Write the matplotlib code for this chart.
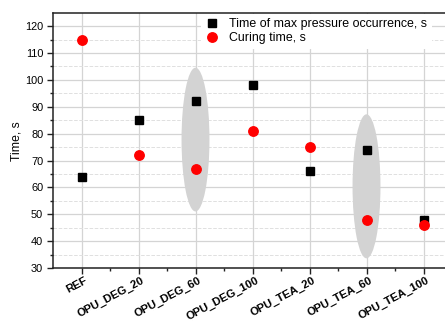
import matplotlib
matplotlib.use("Agg")
import matplotlib.pyplot as plt
from matplotlib.patches import Ellipse
from matplotlib.transforms import ScaledTranslation

# Datos
muestras = ["REF", "OPU_DEG_20", "OPU_DEG_60", "OPU_DEG_100",
            "OPU_TEA_20", "OPU_TEA_60", "OPU_TEA_100"]
t_presion_max = [64, 85, 92, 98, 66, 74, 48]
t_curado = [115, 72, 67, 81, 75, 48, 46]

# elipses grises: (indice de muestra, centro y, alto)
elipses = [(2, 77.8, 53.5), (5, 60.4, 53.6)]

plt.rcParams['font.family'] = ['Liberation Sans', 'DejaVu Sans']

fig = plt.figure(figsize=(4.45, 3.24), dpi=100)
ax = fig.add_axes([53 / 445, 56 / 324, 399 / 445, 254.7 / 324])

x = list(range(len(muestras)))

for i, yc, h in elipses:
    ax.add_patch(Ellipse((i, yc), 0.49, h, facecolor='#d3d3d3',
                         edgecolor='none', zorder=1))

ax.plot(x, t_presion_max, linestyle='none', marker='s', markersize=6.2,
        color='black', label='Time of max pressure occurrence, s', zorder=3)
ax.plot(x, t_curado, linestyle='none', marker='o', markersize=6.8,
        color='#ff0000', label='Curing time, s', zorder=3)

ax.set_xlim(-0.5, 6.5)
ax.set_ylim(30, 124.8)
ax.set_yticks(range(30, 121, 10))
ax.set_yticks(range(35, 125, 10), minor=True)
ax.set_xticks(x)
ax.set_xticks([i + 0.5 for i in x[:-1]], minor=True)
ax.set_xticklabels(muestras, rotation=28, ha='right', rotation_mode='anchor',
                   fontweight='bold', fontsize=8.1)
ax.tick_params(axis='y', labelsize=7.9, pad=3)
ax.tick_params(which='major', direction='out', length=4, width=1, color='#222222')
ax.tick_params(which='minor', direction='out', length=2.5, width=1, color='#222222')
ax.tick_params(axis='x', which='major', pad=1.5)

# mover un poco las etiquetas rotadas a la derecha
desplaz = ScaledTranslation(3 / 100, 0, fig.dpi_scale_trans)
for lbl in ax.get_xticklabels():
    lbl.set_transform(lbl.get_transform() + desplaz)

ax.set_ylabel('Time, s', fontsize=8.8, labelpad=2)

# Grid
ax.grid(True, which='major', color='#d4d4d4', linewidth=0.9, zorder=0)
ax.grid(True, which='minor', axis='y', color='#e0e0e0', linestyle='--',
        linewidth=0.7, zorder=0)
ax.set_axisbelow(True)

for s in ax.spines.values():
    s.set_color('#222222')
    s.set_linewidth(1.1)

leg = ax.legend(loc='upper left', bbox_to_anchor=(201 / 445, 1 - 13.5 / 324),
                bbox_transform=fig.transFigure, fontsize=8.9, frameon=True,
                fancybox=False, framealpha=1, edgecolor='none',
                facecolor='white', handlelength=1, handletextpad=0.85,
                labelspacing=0.15, borderaxespad=0, borderpad=0.4)
leg.set_zorder(5)

plt.savefig('out.png', dpi=100)
